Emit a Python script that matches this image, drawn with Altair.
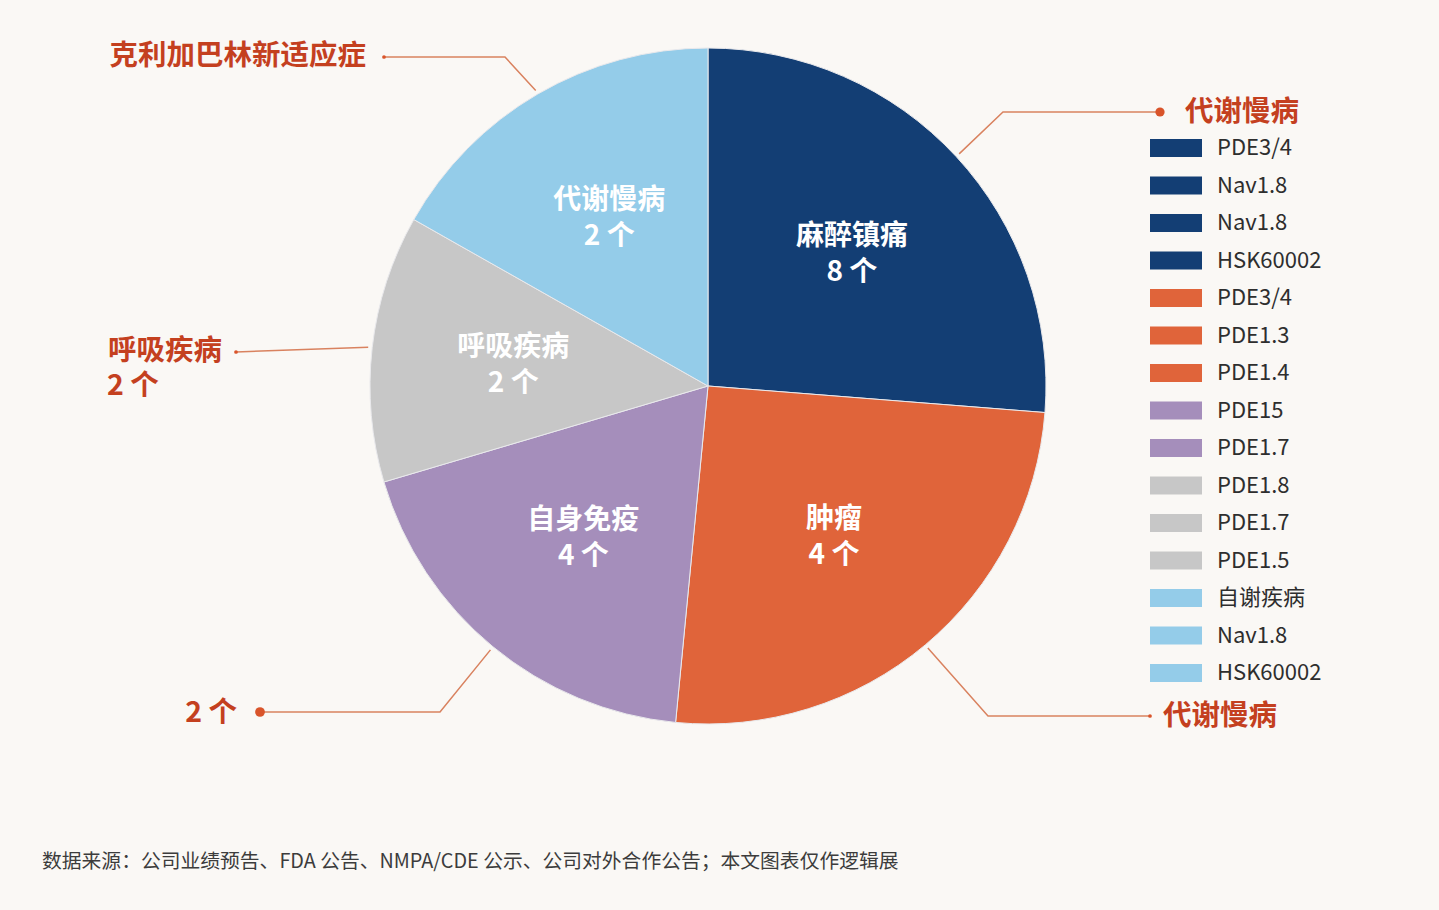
import math
import altair as alt
import pandas as pd

# ---------------- data ----------------
categories = ["麻醉镇痛", "肿瘤", "自身免疫", "呼吸疾病", "代谢慢病"]
counts = [8, 4, 4, 2, 2]
# angular size of each drawn slice (degrees), as measured on the picture
slice_angle_deg = [94.5, 91.0, 68.0, 46.0, 60.5]
slice_colors = ["#133E74", "#E0643A", "#A58EBB", "#C7C7C7", "#94CCE9"]

legend_labels = ["PDE3/4", "Nav1.8", "Nav1.8", "HSK60002", "PDE3/4", "PDE1.3",
                 "PDE1.4", "PDE15", "PDE1.7", "PDE1.8", "PDE1.7", "PDE1.5",
                 "自谢疾病", "Nav1.8", "HSK60002"]
legend_groups = (["麻醉镇痛"] * 4 + ["肿瘤"] * 3 + ["自身免疫"] * 2 +
                 ["呼吸疾病"] * 3 + ["代谢慢病"] * 3)

callout_slices = ["麻醉镇痛", "肿瘤", "自身免疫", "呼吸疾病", "代谢慢病"]

footer = "数据来源：公司业绩预告、FDA 公告、NMPA/CDE 公示、公司对外合作公告；本文图表仅作逻辑展"

# ---------------- layout (pixels) ----------------
W, H = 1439, 910
CX, CY, R = 708, 386, 338
FONT = "Noto Sans CJK SC"
ACCENT = "#C4401F"
LINE = "#D9825F"

# elbow / end points of each leader line (layout only)
callout_path = {
    "麻醉镇痛": [(1003, 112), (1160, 112)],
    "肿瘤": [(988, 716), (1150, 716)],
    "自身免疫": [(440, 712), (260, 712)],
    "呼吸疾病": [(236, 352)],
    "代谢慢病": [(505, 57), (384, 57)],
}
dot_size = {"麻醉镇痛": 85, "肿瘤": 14, "自身免疫": 95, "呼吸疾病": 14, "代谢慢病": 14}

right_texts = [("克利加巴林新适应症", 366, 56), ("2 个", 237, 713), ("呼吸疾病", 222, 351)]
left_texts = [("代谢慢病", 1185, 112), ("代谢慢病", 1163, 716), ("2 个", 107, 386)]

# ---------------- tables ----------------
slices = pd.DataFrame({
    "cat": categories,
    "share": slice_angle_deg,
    "ord": list(range(len(categories))),
    "label": [f"{c}\n{n} 个" for c, n in zip(categories, counts)],
})

mids = {}
acc = 0.0
for c, a in zip(categories, slice_angle_deg):
    mids[c] = acc + a / 2
    acc += a

line_rows, dot_rows = [], []
for c in callout_slices:
    th = math.radians(mids[c])
    pts = [(CX + (R + 4) * math.sin(th), CY - (R + 4) * math.cos(th))] + callout_path[c]
    for i, (px, py) in enumerate(pts):
        line_rows.append({"id": c, "seq": i, "px": px, "py": py})
    ex, ey = pts[-1]
    dot_rows.append({"px": ex, "py": ey, "s": dot_size[c]})
lines_df = pd.DataFrame(line_rows)
dots_df = pd.DataFrame(dot_rows)

legend_df = pd.DataFrame({
    "label": legend_labels,
    "grp": legend_groups,
    "yc": [148 + 37.5 * i for i in range(len(legend_labels))],
})
legend_df["y1"] = legend_df["yc"] - 9
legend_df["y2"] = legend_df["yc"] + 9
legend_df["x1"] = 1150
legend_df["x2"] = 1202
legend_df["xt"] = 1217

rt_df = pd.DataFrame(right_texts, columns=["t", "px", "py"])
lt_df = pd.DataFrame(left_texts, columns=["t", "px", "py"])
foot_df = pd.DataFrame({"t": [footer], "px": [42], "py": [862]})

# ---------------- scales ----------------
xs = alt.Scale(domain=[0, W], nice=False, zero=False)
ys = alt.Scale(domain=[0, H], nice=False, zero=False, reverse=True)
color_scale = alt.Scale(domain=categories, range=slice_colors)

# ---------------- layers ----------------
pie = alt.Chart(slices).mark_arc(outerRadius=R, stroke="#E9E9EC", strokeWidth=1).encode(
    theta=alt.Theta("share:Q", stack=True),
    order=alt.Order("ord:Q"),
    color=alt.Color("cat:N", scale=color_scale, legend=None),
    x=alt.value(CX), y=alt.value(CY),
)

pie_labels = alt.Chart(slices).mark_text(
    radius=196, font=FONT, fontSize=28, fontWeight="bold", color="white",
    lineBreak="\n", lineHeight=36, align="center", baseline="middle", dy=-16,
).encode(
    theta=alt.Theta("share:Q", stack=True),
    order=alt.Order("ord:Q"),
    text="label:N",
    x=alt.value(CX), y=alt.value(CY),
)

leaders = alt.Chart(lines_df).mark_line(color=LINE, strokeWidth=1.5).encode(
    x=alt.X("px:Q", scale=xs, axis=None),
    y=alt.Y("py:Q", scale=ys, axis=None),
    detail="id:N",
    order="seq:Q",
)

dots = alt.Chart(dots_df).mark_circle(color="#D9542A", opacity=1).encode(
    x=alt.X("px:Q", scale=xs, axis=None),
    y=alt.Y("py:Q", scale=ys, axis=None),
    size=alt.Size("s:Q", scale=None, legend=None),
)

rtext = alt.Chart(rt_df).mark_text(
    font=FONT, fontSize=28.5, fontWeight="bold", color=ACCENT, align="right", baseline="middle"
).encode(
    x=alt.X("px:Q", scale=xs, axis=None),
    y=alt.Y("py:Q", scale=ys, axis=None),
    text="t:N",
)

ltext = alt.Chart(lt_df).mark_text(
    font=FONT, fontSize=28.5, fontWeight="bold", color=ACCENT, align="left", baseline="middle"
).encode(
    x=alt.X("px:Q", scale=xs, axis=None),
    y=alt.Y("py:Q", scale=ys, axis=None),
    text="t:N",
)

leg_rect = alt.Chart(legend_df).mark_rect().encode(
    x=alt.X("x1:Q", scale=xs, axis=None), x2="x2:Q",
    y=alt.Y("y1:Q", scale=ys, axis=None), y2="y2:Q",
    color=alt.Color("grp:N", scale=color_scale, legend=None),
)

leg_text = alt.Chart(legend_df).mark_text(
    font=FONT, fontSize=22, color="#2E2E2E", align="left", baseline="middle"
).encode(
    x=alt.X("xt:Q", scale=xs, axis=None),
    y=alt.Y("yc:Q", scale=ys, axis=None),
    text="label:N",
)

foot = alt.Chart(foot_df).mark_text(
    font=FONT, fontSize=19.8, color="#3C3C3C", align="left", baseline="middle"
).encode(
    x=alt.X("px:Q", scale=xs, axis=None),
    y=alt.Y("py:Q", scale=ys, axis=None),
    text="t:N",
)

chart = alt.layer(
    pie, pie_labels, leaders, dots, rtext, ltext, leg_rect, leg_text, foot
).properties(
    width=W, height=H, padding=0, background="#FAF8F5",
).configure_view(stroke=None)

chart.save("out.html", embed_options={"renderer": "svg", "actions": False})
